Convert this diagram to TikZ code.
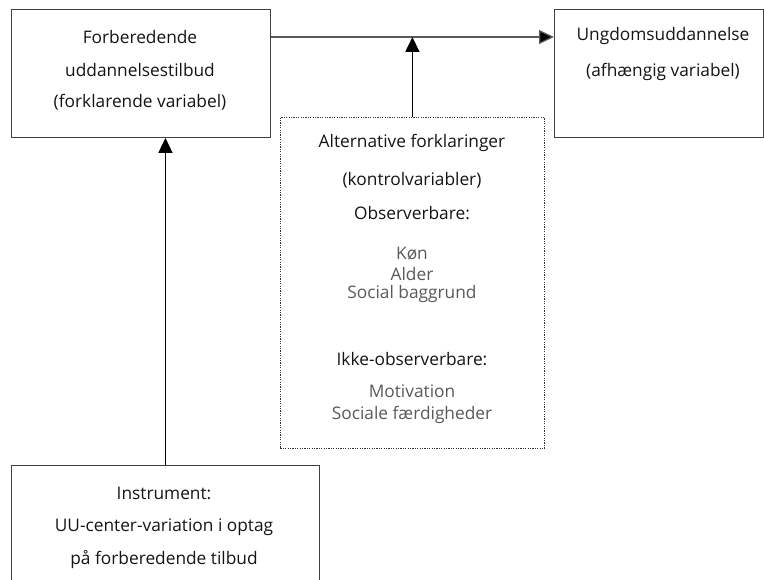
\documentclass[tikz,border=0pt]{standalone}
\usepackage{fontspec}
\setmainfont{Open Sans}
\usetikzlibrary{arrows.meta}
\begin{document}
\begin{tikzpicture}[x=1pt,y=-1pt,
  box/.style={draw=black!75,line width=0.9pt,rectangle,inner sep=0pt,anchor=north west},
  dbox/.style={draw=black!80,dash pattern=on 1.2pt off 1.2pt,line width=0.8pt,rectangle,inner sep=0pt,anchor=north west},
  lbl/.style={inner sep=0pt,font=\fontsize{17.3}{20}\selectfont,text=black!92},
  lite/.style={inner sep=0pt,font=\fontsize{17.3}{20}\selectfont,text=black!65},
  tip/.style={-{Triangle[length=15pt,width=14pt,fill=black]}},
]
\useasboundingbox (0,0) rectangle (764,580);
\clip (0,0) rectangle (764,580);
% boxes
\node[box,minimum width=259pt,minimum height=128pt] (A) at (11,9) {};
\node[box,minimum width=209pt,minimum height=128pt] (B) at (554,9) {};
\node[dbox,minimum width=264pt,minimum height=331pt] (D) at (280,117) {};
\node[box,minimum width=308pt,minimum height=150pt] (C) at (11,465) {};
% texts
\node[lbl] (a1) at (140,37) {Forberedende};
\node[lbl] (a2) at (140,70) {uddannelsestilbud};
\node[lbl] (a3) at (140,102) {(forklarende variabel)};
\node[lbl] (b1) at (663,36) {Ungdomsuddannelse};
\node[lbl] (b2) at (663,72) {(afhængig variabel)};
\node[lbl] (d1) at (412,143) {Alternative forklaringer};
\node[lbl] (d2) at (412,180) {(kontrolvariabler)};
\node[lbl] (d3) at (412,213) {Observerbare:};
\node[lite] (d4) at (412,254) {Køn};
\node[lite] (d5) at (412,274) {Alder};
\node[lite] (d6) at (412,294) {Social baggrund};
\node[lbl] (d7) at (412,359) {Ikke-observerbare:};
\node[lite] (d8) at (412,391) {Motivation};
\node[lite] (d9) at (412,415) {Sociale færdigheder};
\node[lbl] (c1) at (164,493) {Instrument:};
\node[lbl] (c2) at (164,527) {UU-center-variation i optag};
\node[lbl] (c3) at (164,560) {på forberedende tilbud};
% connectors
\coordinate (h) at (0,37);
\draw[tip,draw=black!65,line width=1.3pt] (A.east |- h) -- (B.west |- h);
\draw[tip,line width=1.8pt] (D.north) -- (D.north |- h);
\draw[tip,line width=1.3pt] (C.north) -- (C.north |- A.south);
\end{tikzpicture}
\end{document}
